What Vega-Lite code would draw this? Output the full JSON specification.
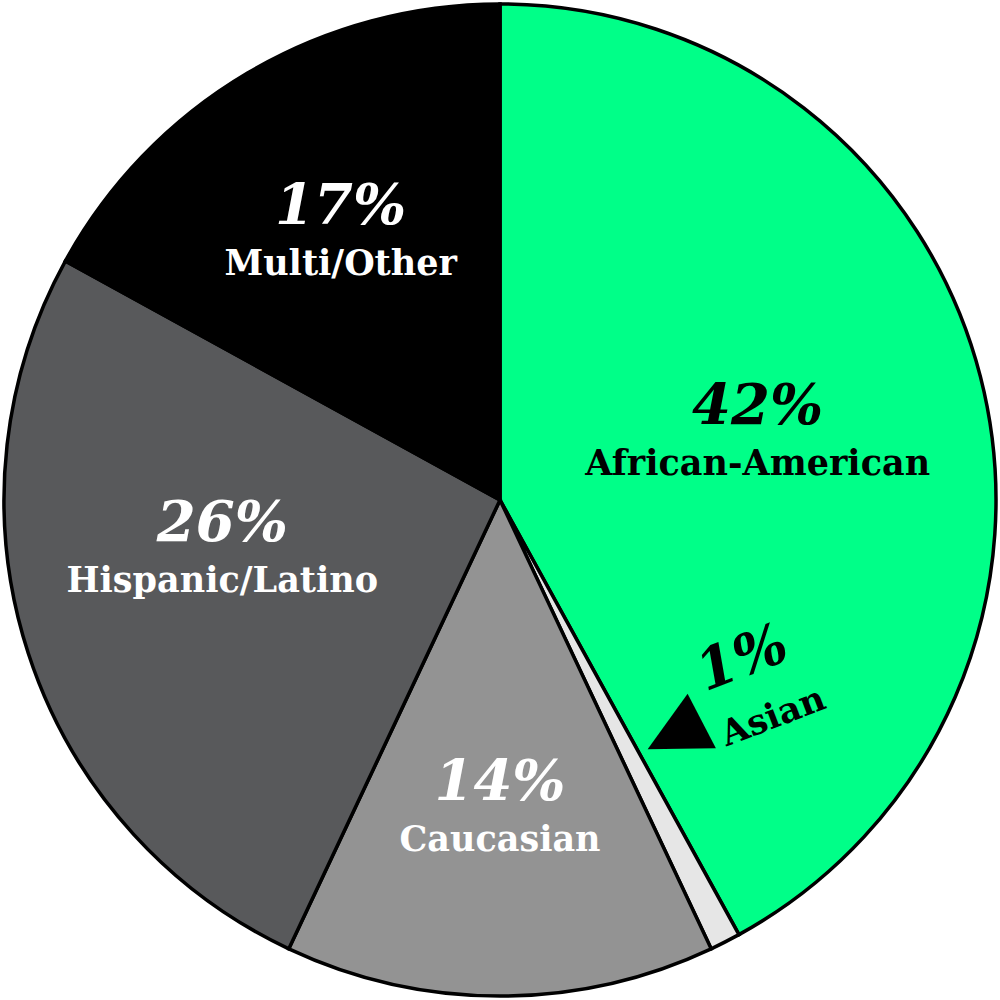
{
  "$schema": "https://vega.github.io/schema/vega-lite/v6.json",
  "width": 1000,
  "height": 1000,
  "autosize": {"type": "fit", "contains": "padding"},
  "padding": 0,
  "background": "white",
  "config": {"view": {"stroke": null}},
  "data": {"values": [
    {"cat": "African-American", "value": 42, "pct": "42%", "idx": 1},
    {"cat": "Asian", "value": 1, "pct": "1%", "idx": 2},
    {"cat": "Caucasian", "value": 14, "pct": "14%", "idx": 3},
    {"cat": "Hispanic/Latino", "value": 26, "pct": "26%", "idx": 4},
    {"cat": "Multi/Other", "value": 17, "pct": "17%", "idx": 5}
  ]},
  "encoding": {
    "theta": {"field": "value", "type": "quantitative", "stack": true},
    "order": {"field": "idx", "type": "quantitative"}
  },
  "layer": [
    {
      "mark": {"type": "arc", "radius": 496, "stroke": "black", "strokeWidth": 3.5},
      "encoding": {
        "color": {"field": "cat", "type": "nominal", "legend": null,
          "scale": {"domain": ["African-American", "Asian", "Caucasian", "Hispanic/Latino", "Multi/Other"],
                    "range": ["#00FF88", "#E6E6E6", "#939393", "#58595B", "#000000"]}}
      }
    },
    {
      "mark": {"type": "text", "font": "DejaVu Serif", "fontWeight": "bold", "fontStyle": "italic", "fontSize": 56,
        "align": "center", "baseline": "middle",
        "radius": {"expr": "datum.cat === 'African-American' ? 266 : datum.cat === 'Caucasian' ? 310 : datum.cat === 'Hispanic/Latino' ? 292 : 313"},
        "dy": {"expr": "-27 + (datum.cat === 'Hispanic/Latino' ? -39 : datum.cat === 'Multi/Other' ? 3 : 0)"}},
      "encoding": {
        "text": {"condition": {"test": "datum.cat === 'Asian'", "value": ""}, "field": "pct"},
        "color": {"condition": {"test": "datum.cat === 'African-American' || datum.cat === 'Asian'", "value": "#000000"}, "value": "#ffffff"}
      }
    },
    {
      "mark": {"type": "text", "font": "DejaVu Serif", "fontWeight": "bold", "fontSize": 35,
        "align": "center", "baseline": "middle",
        "radius": {"expr": "datum.cat === 'African-American' ? 266 : datum.cat === 'Caucasian' ? 310 : datum.cat === 'Hispanic/Latino' ? 292 : 313"},
        "dy": {"expr": "30 + (datum.cat === 'Hispanic/Latino' ? -39 : datum.cat === 'Multi/Other' ? 3 : 0)"}},
      "encoding": {
        "text": {"condition": {"test": "datum.cat === 'Asian'", "value": ""}, "field": "cat"},
        "color": {"condition": {"test": "datum.cat === 'African-American' || datum.cat === 'Asian'", "value": "#000000"}, "value": "#ffffff"}
      }
    },
    {
      "mark": {"type": "text", "font": "DejaVu Serif", "fontWeight": "bold", "fontStyle": "italic", "fontSize": 56,
        "align": "center", "baseline": "middle", "angle": 339, "radius": 300, "dx": 138, "dy": -63, "color": "#000000"},
      "encoding": {
        "text": {"condition": {"test": "datum.cat === 'Asian'", "field": "pct"}, "value": ""}
      }
    },
    {
      "mark": {"type": "text", "font": "DejaVu Serif", "fontWeight": "bold", "fontSize": 35,
        "align": "center", "baseline": "middle", "angle": 339, "radius": 300, "dx": 146, "dy": 2, "color": "#000000"},
      "encoding": {
        "text": {"condition": {"test": "datum.cat === 'Asian'", "field": "cat"}, "value": ""}
      }
    },
    {
      "mark": {"type": "text", "font": "DejaVu Sans", "fontSize": 80,
        "align": "center", "baseline": "middle", "angle": 332.5, "radius": 300, "dx": 49, "dy": -14, "color": "#000000"},
      "encoding": {
        "text": {"condition": {"test": "datum.cat === 'Asian'", "value": "◀"}, "value": ""}
      }
    }
  ]
}
